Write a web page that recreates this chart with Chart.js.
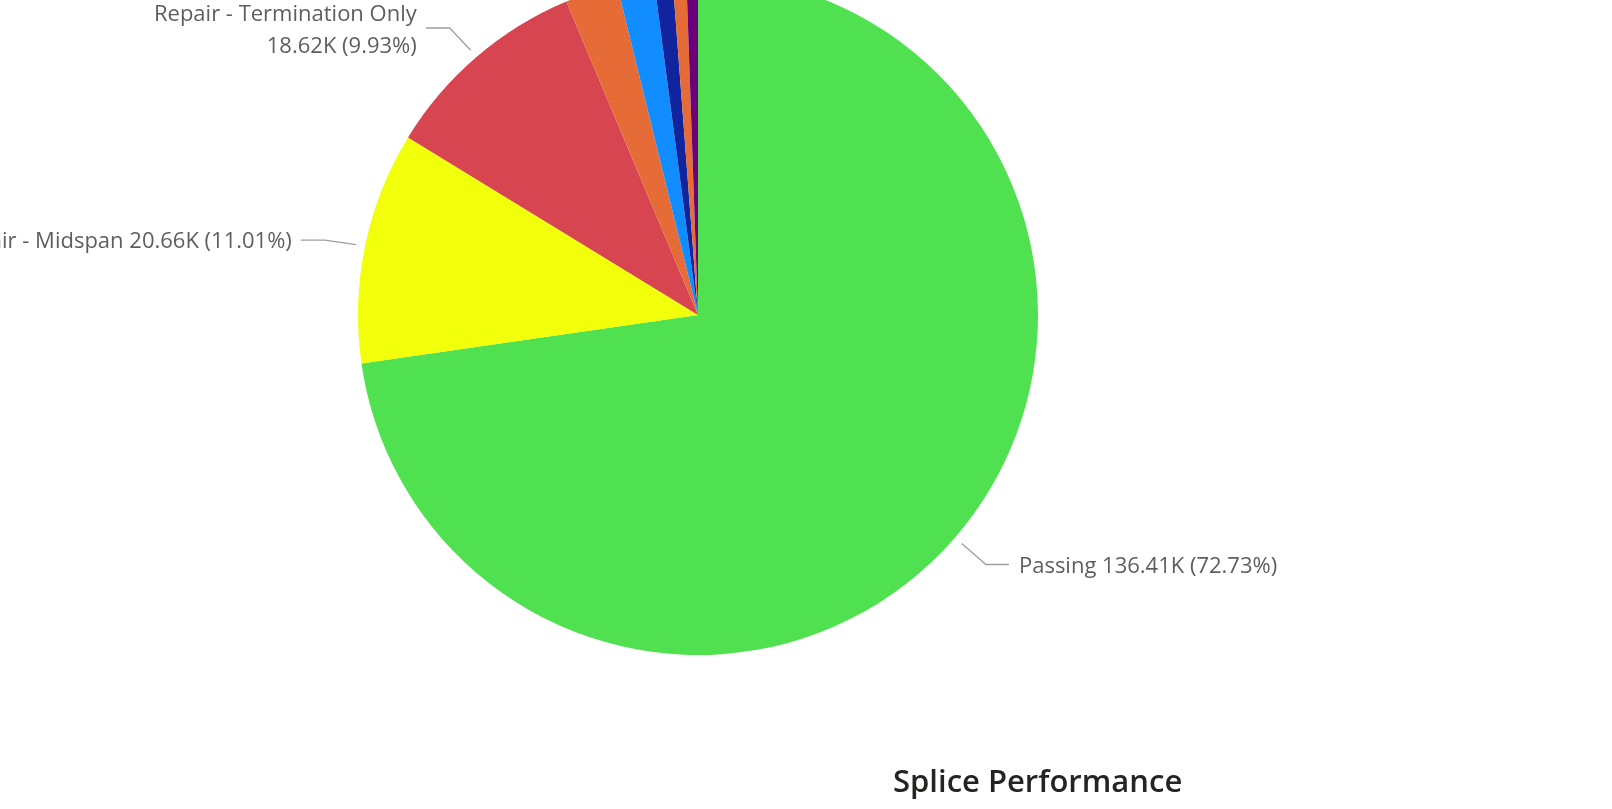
<!DOCTYPE html>
<html>
<head>
<meta charset="utf-8">
<script src="https://cdn.jsdelivr.net/npm/chart.js@4.4.1/dist/chart.umd.min.js"></script>
<style>
  html, body { margin: 0; padding: 0; background: #fff; overflow: hidden; }
  #wrap { position: absolute; left: 0; top: -25px; width: 1612px; height: 834px; }
</style>
</head>
<body>
<div id="wrap"><canvas id="pie"></canvas></div>
<script>
const categories = ['Passing', 'Repair - Midspan', 'Repair - Termination Only', 'Repair - Splice', 'Repair - Fiber', 'Repair - Closure', 'Repair - Other', 'Not Tested'];
const values = [136.41, 20.66, 18.62, 4.69, 3.28, 1.65, 1.22, 1.035];   // thousands
const colors = ['#4FE150', '#F2FF0A', '#D64550', '#E66C37', '#118DFF', '#12239E', '#E66C37', '#6B007B'];
const shownLabels = [0, 1, 2];
const wrappedLabels = [2];
const title = 'Splice Performance';

const total = values.reduce((a, b) => a + b, 0);
const labelFont = '22px "Open Sans", "Noto Sans", sans-serif';

// leader lines and data labels drawn from each arc's own geometry
const pieLabels = {
    id: 'pieLabels',
    afterDatasetsDraw(chart) {
        const ctx = chart.ctx;
        const meta = chart.getDatasetMeta(0);
        ctx.save();
        ctx.font = labelFont;
        ctx.fillStyle = '#605E5C';
        ctx.strokeStyle = '#A19F9D';
        ctx.lineWidth = 1.3;
        ctx.textBaseline = 'middle';
        shownLabels.forEach(i => {
            const arc = meta.data[i];
            const mid = (arc.startAngle + arc.endAngle) / 2;
            const r = arc.outerRadius;
            const cos = Math.cos(mid), sin = Math.sin(mid);
            const right = cos >= 0;
            const x1 = arc.x + cos * (r + 9), y1 = arc.y + sin * (r + 9);
            const x2 = arc.x + cos * (r + 41), y2 = arc.y + sin * (r + 41) + (right ? 0 : 2);
            const x3 = x2 + (right ? 23 : -24);
            ctx.beginPath();
            ctx.moveTo(x1, y1);
            ctx.lineTo(x2, y2);
            ctx.lineTo(x3, y2);
            ctx.stroke();
            const v = values[i];
            const pct = (v / total * 100).toFixed(2) + '%';
            const num = v.toFixed(2) + 'K (' + pct + ')';
            const tx = x3 + (right ? 10 : -9);
            ctx.textAlign = right ? 'left' : 'right';
            if (wrappedLabels.includes(i)) {
                ctx.fillText(categories[i], tx, y2 - 13);
                ctx.fillText(num, tx, y2 + 19);
            } else {
                ctx.fillText(categories[i] + ' ' + num, tx, y2 + 2);
            }
        });
        // chart title
        ctx.font = '600 31px "Open Sans", "Noto Sans", sans-serif';
        ctx.fillStyle = '#252423';
        ctx.textAlign = 'left';
        ctx.textBaseline = 'alphabetic';
        ctx.fillText(title, 893, 792 + 25);
        ctx.restore();
    }
};

new Chart(document.getElementById('pie'), {
    type: 'pie',
    data: {
        labels: categories,
        datasets: [{
            data: values,
            backgroundColor: colors,
            borderWidth: 0
        }]
    },
    options: {
        responsive: true,
        maintainAspectRatio: false,
        animation: false,
        layout: { padding: { left: 358, right: 574, top: 0, bottom: 154 } },
        plugins: {
            legend: { display: false },
            tooltip: { enabled: false }
        }
    },
    plugins: [pieLabels]
});
</script>
</body>
</html>
